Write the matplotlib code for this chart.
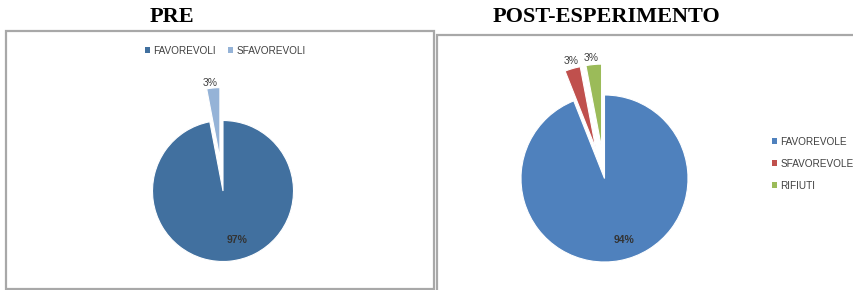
import matplotlib
matplotlib.use("Agg")
import matplotlib.pyplot as plt
from matplotlib.patches import Rectangle
import numpy as np

# ---- data ----
pre_labels = ["FAVOREVOLI", "SFAVOREVOLI"]
pre_values = [97, 3]
post_labels = ["FAVOREVOLE", "SFAVOREVOLE", "RIFIUTI"]
post_values = [94, 3, 3]
titles = ["PRE", "POST-ESPERIMENTO"]

W, H = 854, 290
fig = plt.figure(figsize=(W / 100, H / 100), dpi=100)
ax = fig.add_axes([0, 0, 1, 1])

def py(y):
    return H - y

txt_col = "#404040"
pre_colors = ["#41709F", "#95B3D7"]
post_colors = ["#4F81BD", "#C0504D", "#9BBB59"]

# Left pie
c1 = (223, py(191)); r1 = 70.5
w1, _, at1 = ax.pie(pre_values, center=c1, radius=r1, startangle=90, counterclock=False,
                    explode=[0, 33], colors=pre_colors, autopct="%d%%",
                    wedgeprops=dict(edgecolor="white", linewidth=0.8),
                    textprops=dict(color=txt_col, fontsize=7.5, family="Liberation Sans"))
# Right pie
c2 = (604.5, py(178.5)); r2 = 83.5
w2, _, at2 = ax.pie(post_values, center=c2, radius=r2, startangle=90, counterclock=False,
                    explode=[0, 31, 31], colors=post_colors, autopct="%d%%",
                    wedgeprops=dict(edgecolor="white", linewidth=0.8),
                    textprops=dict(color=txt_col, fontsize=7.5, family="Liberation Sans"))

# label placement (distance from main centre in px, angle in degrees)
def place(texts, center, specs):
    for t, (d, a) in zip(texts, specs):
        t.set_position((center[0] + d * np.cos(np.radians(a)), center[1] + d * np.sin(np.radians(a))))
        t.set_ha("center"); t.set_va("center")

place(at1, c1, [(51, -74), (109, 96.8)])
place(at2, c2, [(64.5, -72.4), (122, 105.8), (121, 96.3)])
for t in list(at1) + list(at2):
    if t.get_text() in ("97%", "94%"):
        t.set_fontweight("bold")
        t.set_color("#333333")

ax.set_xlim(0, W)
ax.set_ylim(0, H)
ax.set_aspect("equal")
ax.axis("off")

# boxes
ax.add_patch(Rectangle((6, py(288.5)), 428.5, 257.5, fill=False, edgecolor="#A8A8A8", linewidth=1.6))
ax.add_patch(Rectangle((437, py(293)), 430, 258, fill=False, edgecolor="#A8A8A8", linewidth=1.6))

# titles
ax.text(172, py(16.5), titles[0], ha="center", va="center", fontsize=16, fontweight="bold",
        family="Liberation Serif", color="black")
ax.text(606, py(16.5), titles[1], ha="center", va="center", fontsize=16, fontweight="bold",
        family="Liberation Serif", color="black")

# legends
leg1 = ax.legend(w1, pre_labels, loc="center", bbox_to_anchor=(225 / W, 1 - 51 / H),
                 bbox_transform=fig.transFigure, ncol=2, frameon=False,
                 prop=dict(family="Liberation Sans", size=7.2), labelcolor=txt_col,
                 handlelength=0.55, handleheight=0.55, handletextpad=0.3, columnspacing=1.2,
                 borderpad=0, borderaxespad=0)
ax.add_artist(leg1)
leg2 = ax.legend(w2, post_labels, loc="center left", bbox_to_anchor=(772 / W, 1 - 164 / H),
                 bbox_transform=fig.transFigure, ncol=1, frameon=False,
                 prop=dict(family="Liberation Sans", size=7.2), labelcolor=txt_col,
                 handlelength=0.55, handleheight=0.55, handletextpad=0.3, labelspacing=1.2,
                 borderpad=0, borderaxespad=0)
for lg in (leg1, leg2):
    for h in lg.legend_handles:
        h.set_edgecolor("none")

fig.savefig("out.png", dpi=100, facecolor="white")
